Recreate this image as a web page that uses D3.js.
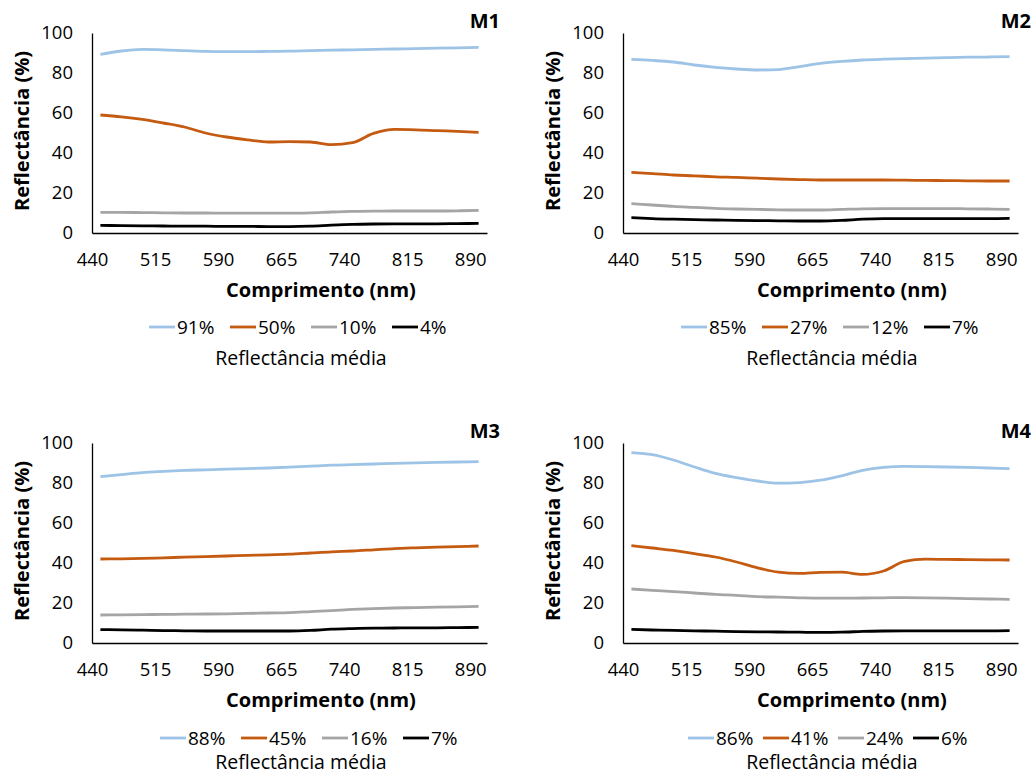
<!DOCTYPE html>
<html>
<head>
<meta charset="utf-8">
<script src="https://cdnjs.cloudflare.com/ajax/libs/d3/7.8.5/d3.min.js"></script>
<style>
  body { margin: 0; background: #fff; }
  svg { display: block; }
  text { font-family: "Open Sans", "DejaVu Sans", sans-serif; fill: #000; }
</style>
</head>
<body>
<svg id="chart"></svg>
<script>
var W = 1031, H = 774;

// wavelengths (nm)
var wavelengths = [450, 475, 500, 525, 550, 575, 600, 625, 650, 675, 700, 725, 750, 775, 800, 825, 850, 875, 900];
var xTicks = [440, 515, 590, 665, 740, 815, 890];
var yTicks = [0, 20, 40, 60, 80, 100];
var seriesColors = ["#9dc3e6", "#c55a11", "#a5a5a5", "#000000"];
var panelNames = ["M1", "M2", "M3", "M4"];

// M1
var m1Labels = ["91%", "50%", "10%", "4%"];
var m1Blue   = [89.3, 91.0, 91.8, 91.6, 91.2, 90.8, 90.7, 90.7, 90.8, 90.9, 91.2, 91.4, 91.6, 91.8, 92.0, 92.2, 92.4, 92.6, 92.8];
var m1Orange = [59.0, 58.1, 56.8, 55.0, 53.0, 50.0, 48.0, 46.6, 45.5, 45.7, 45.5, 44.2, 45.2, 49.8, 51.8, 51.6, 51.2, 50.8, 50.3];
var m1Gray   = [10.3, 10.3, 10.2, 10.1, 10.0, 10.0, 9.9, 9.9, 9.9, 9.9, 10.1, 10.5, 10.8, 10.9, 11.0, 11.0, 11.0, 11.1, 11.3];
var m1Black  = [3.8, 3.7, 3.6, 3.5, 3.4, 3.4, 3.3, 3.3, 3.2, 3.2, 3.4, 3.9, 4.3, 4.5, 4.6, 4.6, 4.6, 4.7, 4.8];

// M2
var m2Labels = ["85%", "27%", "12%", "7%"];
var m2Blue   = [86.8, 86.3, 85.5, 84.0, 82.8, 82.0, 81.5, 81.7, 83.2, 84.8, 85.8, 86.5, 86.9, 87.2, 87.4, 87.7, 87.9, 88.0, 88.2];
var m2Orange = [30.3, 29.7, 29.0, 28.6, 28.1, 27.8, 27.4, 27.0, 26.7, 26.5, 26.5, 26.5, 26.5, 26.4, 26.3, 26.2, 26.1, 26.0, 26.0];
var m2Gray   = [14.7, 14.0, 13.3, 12.8, 12.3, 12.0, 11.8, 11.6, 11.5, 11.5, 11.8, 12.1, 12.2, 12.2, 12.2, 12.2, 12.1, 12.0, 11.8];
var m2Black  = [7.7, 7.2, 6.9, 6.7, 6.5, 6.3, 6.2, 6.1, 6.0, 6.0, 6.3, 6.9, 7.2, 7.2, 7.2, 7.2, 7.2, 7.2, 7.3];

// M3
var m3Labels = ["88%", "45%", "16%", "7%"];
var m3Blue   = [83.2, 84.2, 85.2, 85.8, 86.3, 86.6, 86.9, 87.2, 87.5, 87.9, 88.4, 88.9, 89.2, 89.5, 89.8, 90.1, 90.3, 90.5, 90.7];
var m3Orange = [42.0, 42.1, 42.3, 42.6, 42.9, 43.2, 43.5, 43.8, 44.1, 44.4, 45.0, 45.6, 46.0, 46.6, 47.2, 47.6, 47.9, 48.2, 48.5];
var m3Gray   = [14.0, 14.1, 14.2, 14.3, 14.4, 14.5, 14.6, 14.8, 15.0, 15.2, 15.7, 16.2, 16.8, 17.2, 17.5, 17.7, 17.9, 18.1, 18.3];
var m3Black  = [6.7, 6.6, 6.4, 6.2, 6.1, 6.0, 6.0, 6.0, 6.0, 6.0, 6.3, 6.9, 7.2, 7.4, 7.5, 7.6, 7.6, 7.7, 7.8];

// M4
var m4Labels = ["86%", "41%", "24%", "6%"];
var m4Blue   = [95.2, 94.2, 91.5, 88.0, 84.8, 82.7, 81.0, 79.9, 80.2, 81.4, 83.6, 86.3, 87.8, 88.3, 88.2, 88.0, 87.8, 87.5, 87.2];
var m4Orange = [48.7, 47.5, 46.3, 44.7, 43.0, 40.5, 37.6, 35.4, 34.8, 35.3, 35.4, 34.3, 36.0, 40.8, 41.9, 41.8, 41.7, 41.6, 41.5];
var m4Gray   = [27.0, 26.3, 25.7, 25.0, 24.3, 23.8, 23.2, 22.9, 22.6, 22.4, 22.4, 22.5, 22.6, 22.7, 22.6, 22.4, 22.2, 22.0, 21.8];
var m4Black  = [6.8, 6.5, 6.3, 6.1, 5.9, 5.7, 5.6, 5.5, 5.4, 5.3, 5.4, 5.8, 6.0, 6.1, 6.1, 6.1, 6.1, 6.1, 6.2];

var panels = [
  { name: panelNames[0], labels: m1Labels, values: [m1Blue, m1Orange, m1Gray, m1Black], ox: 0,   oy: 0,   legX: 149, legStep: 81, legY: 327, subY: 358 },
  { name: panelNames[1], labels: m2Labels, values: [m2Blue, m2Orange, m2Gray, m2Black], ox: 531, oy: 0,   legX: 150, legStep: 81, legY: 327, subY: 358 },
  { name: panelNames[2], labels: m3Labels, values: [m3Blue, m3Orange, m3Gray, m3Black], ox: 0,   oy: 410, legX: 160, legStep: 81, legY: 328, subY: 352 },
  { name: panelNames[3], labels: m4Labels, values: [m4Blue, m4Orange, m4Gray, m4Black], ox: 531, oy: 410, legX: 157, legStep: 75, legY: 328, subY: 352 }
];

// plot area inside each panel
var plot = { left: 92, top: 33, width: 395, height: 200 };

var svg = d3.select("#chart").attr("width", W).attr("height", H);

var x = d3.scaleLinear().domain([440, 910]).range([0, plot.width]);
var y = d3.scaleLinear().domain([0, 100]).range([plot.height, 0]);

var valueline = d3.line()
    .x(function(d, i) { return x(wavelengths[i]); })
    .y(function(d) { return y(d); })
    .curve(d3.curveMonotoneX);

panels.forEach(function(p) {
  var g = svg.append("g").attr("transform", "translate(" + p.ox + "," + p.oy + ")");
  var pg = g.append("g").attr("transform", "translate(" + plot.left + "," + plot.top + ")");

  // series lines
  p.values.forEach(function(vals, k) {
    pg.append("path").datum(vals)
      .attr("d", valueline)
      .attr("fill", "none")
      .attr("stroke", seriesColors[k])
      .attr("stroke-width", 2.8)
      .attr("stroke-linejoin", "round");
  });

  // x axis
  var xAxis = d3.axisBottom(x).tickValues(xTicks).tickSize(0).tickPadding(20);
  var xg = pg.append("g").attr("transform", "translate(0," + plot.height + ")").call(xAxis);
  xg.select(".domain").attr("stroke", "#000").attr("stroke-width", 1.3);
  xg.selectAll("text").style("font-size", "18.5px").attr("fill", "#000");

  // y axis
  var yAxis = d3.axisLeft(y).tickValues(yTicks).tickSize(0).tickPadding(19);
  var yg = pg.append("g").call(yAxis);
  yg.select(".domain").attr("stroke", "#000").attr("stroke-width", 1.3);
  yg.selectAll("text").style("font-size", "18.5px").attr("fill", "#000");

  // axis titles
  g.append("text")
    .attr("x", 321).attr("y", 290).attr("dy", "0.35em")
    .style("text-anchor", "middle").style("font-size", "20px").style("font-weight", "bold")
    .text("Comprimento (nm)");

  g.append("text")
    .attr("transform", "translate(22,131) rotate(-90)")
    .attr("dy", "0.35em")
    .style("text-anchor", "middle").style("font-size", "20px").style("font-weight", "bold")
    .text("Reflectância (%)");

  // panel name
  g.append("text")
    .attr("x", 500).attr("y", 28)
    .style("text-anchor", "end").style("font-size", "20px").style("font-weight", "bold")
    .text(p.name);

  // legend
  var leg = g.append("g").attr("transform", "translate(" + p.legX + "," + p.legY + ")");
  p.labels.forEach(function(lab, k) {
    var item = leg.append("g").attr("transform", "translate(" + (k * p.legStep) + ",0)");
    item.append("line")
      .attr("x1", 0).attr("x2", 26).attr("y1", 0).attr("y2", 0)
      .attr("stroke", seriesColors[k]).attr("stroke-width", 2.8);
    item.append("text")
      .attr("x", 28).attr("dy", "0.35em")
      .style("font-size", "19px")
      .text(lab);
  });

  g.append("text")
    .attr("x", 301).attr("y", p.subY).attr("dy", "0.35em")
    .style("text-anchor", "middle").style("font-size", "19.5px")
    .text("Reflectância média");
});
</script>
</body>
</html>
